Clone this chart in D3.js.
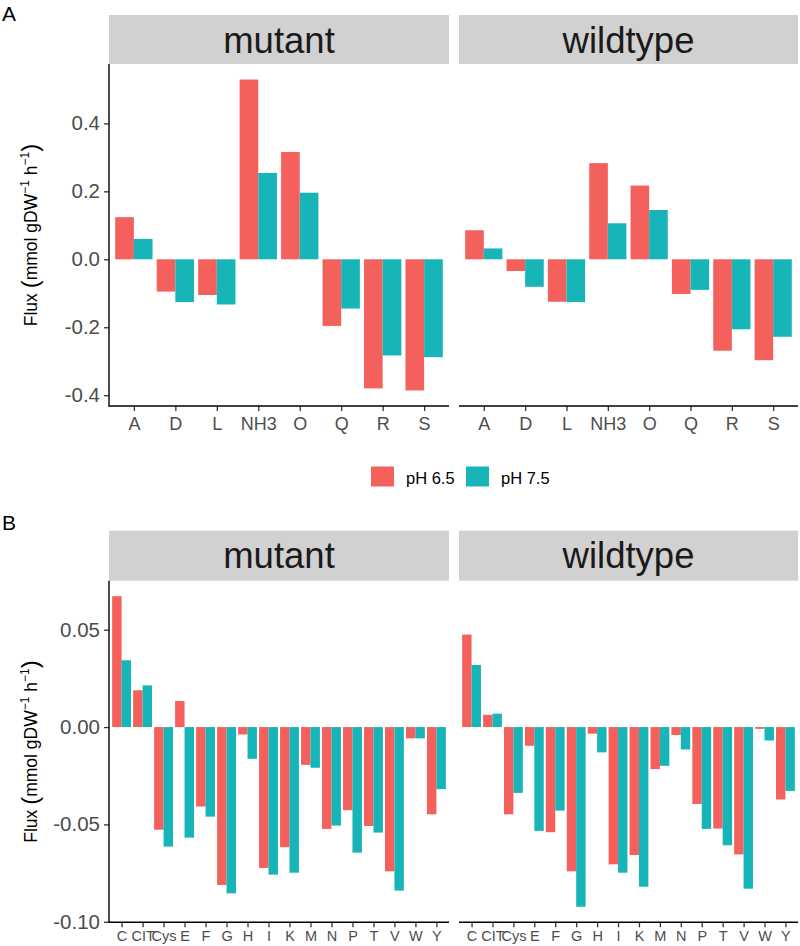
<!DOCTYPE html>
<html>
<head>
<meta charset="utf-8">
<script src="https://cdn.jsdelivr.net/npm/d3@7"></script>
<style>
  html, body { margin: 0; padding: 0; background: #fff; }
  svg { display: block; font-family: "Liberation Sans", Arial, Helvetica, sans-serif; }
  svg text { font-family: "Liberation Sans", Arial, Helvetica, sans-serif; }
</style>
</head>
<body>
<svg id="chart" width="800" height="946"></svg>
<script>
// ---------- DATA ----------
const facets = ["mutant", "wildtype"];
const seriesNames = ["pH 6.5", "pH 7.5"];
const seriesColors = ["#F4605C", "#17B4B8"];

const catsA = ["A", "D", "L", "NH3", "O", "Q", "R", "S"];
const mutantA_ph65 = [0.124, -0.095, -0.105, 0.529, 0.316, -0.196, -0.380, -0.386];
const mutantA_ph75 = [0.060, -0.126, -0.133, 0.254, 0.196, -0.145, -0.283, -0.288];
const wildA_ph65   = [0.0855, -0.0345, -0.125, 0.283, 0.217, -0.102, -0.269, -0.297];
const wildA_ph75   = [0.032, -0.081, -0.126, 0.106, 0.145, -0.090, -0.206, -0.228];
const ticksA = [-0.4, -0.2, 0.0, 0.2, 0.4];

const catsB = ["C", "CIT", "Cys", "E", "F", "G", "H", "I", "K", "M", "N", "P", "T", "V", "W", "Y"];
const mutantB_ph65 = [0.0672, 0.0189, -0.0527, 0.0134, -0.0408, -0.0811, -0.0038, -0.0724, -0.0617, -0.0194, -0.0523, -0.0427, -0.0508, -0.0741, -0.0058, -0.0448];
const mutantB_ph75 = [0.0343, 0.0214, -0.0614, -0.0568, -0.0460, -0.0854, -0.0163, -0.0758, -0.0748, -0.0209, -0.0506, -0.0645, -0.0542, -0.0840, -0.0058, -0.0319];
const wildB_ph65   = [0.0475, 0.0063, -0.0448, -0.0096, -0.0540, -0.0741, -0.0034, -0.0705, -0.0657, -0.0216, -0.0041, -0.0395, -0.0521, -0.0654, -0.0009, -0.0372];
const wildB_ph75   = [0.0319, 0.0069, -0.0338, -0.0533, -0.0429, -0.0923, -0.0130, -0.0748, -0.0820, -0.0199, -0.0115, -0.0523, -0.0607, -0.0830, -0.0069, -0.0328];
const ticksB = [-0.10, -0.05, 0.00, 0.05];

// ---------- LAYOUT ----------
const FONT = '"Liberation Sans", Arial, Helvetica, sans-serif';
const svg = d3.select("#chart");
const panelX = [[109, 449], [459, 798]];
const fontTick = "#4D4D4D";

function drawRow(cfg) {
  const { label, labelY, stripTop, stripBottom, plotBottom, cats, data, ticks, fmt, xFont, xBaseline } = cfg;
  const g = svg.append("g");

  // y scale with ggplot-like 5% expansion
  const all = data.flat(2);
  const lo = d3.min(all), hi = d3.max(all);
  const pad = (hi - lo) * 0.05;
  const y = d3.scaleLinear().domain([lo - pad, hi + pad]).range([plotBottom, stripBottom]);

  // row label
  g.append("text").attr("x", 2).attr("y", labelY)
    .style("font-size", "21px").attr("fill", "#000").text(label);

  facets.forEach((f, fi) => {
    const [x0, x1] = panelX[fi];
    // strip
    g.append("rect").attr("x", x0).attr("y", stripTop)
      .attr("width", x1 - x0).attr("height", stripBottom - stripTop)
      .attr("fill", "#D1D1D1");
    g.append("text").attr("x", (x0 + x1) / 2).attr("y", stripTop + 37.7)
      .attr("text-anchor", "middle").style("font-size", "36.5px").attr("fill", "#1A1A1A")
      .text(f);

    const x = d3.scalePoint().domain(cats).range([x0, x1]).padding(0.6);
    const step = x.step();
    const barW = step * 0.45;

    const pg = g.append("g");
    data[fi].forEach((vals, si) => {
      pg.selectAll(null).data(cats.map((c, i) => ({ c, v: vals[i] })))
        .enter().append("rect")
        .attr("x", d => x(d.c) - barW + si * barW)
        .attr("y", d => Math.min(y(d.v), y(0)))
        .attr("width", barW)
        .attr("height", d => Math.abs(y(d.v) - y(0)))
        .attr("fill", seriesColors[si]);
    });

    // x axis
    const xa = g.append("g").attr("transform", `translate(0,${plotBottom})`)
      .call(d3.axisBottom(x).tickSize(5).tickSizeOuter(0).tickPadding(3));
    xa.attr("font-family", null).attr("font-size", null);
    xa.select(".domain").remove();
    xa.selectAll(".tick line").attr("stroke", "#333").attr("stroke-width", 1.3);
    xa.selectAll(".tick text")
      .style("font-size", xFont + "px").style("font-family", FONT).attr("fill", fontTick)
      .attr("dy", null).attr("y", xBaseline - plotBottom);
    g.append("line").attr("x1", x0).attr("x2", x1)
      .attr("y1", plotBottom).attr("y2", plotBottom)
      .attr("stroke", "#000").attr("stroke-width", 1.4);

    if (fi === 0) {
      const ya = g.append("g").attr("transform", `translate(${x0},0)`)
        .call(d3.axisLeft(y).tickValues(ticks).tickFormat(fmt).tickSize(5).tickPadding(4));
      ya.attr("font-family", null).attr("font-size", null);
      ya.select(".domain").remove();
      ya.selectAll(".tick line").attr("stroke", "#333").attr("stroke-width", 1.3);
      ya.selectAll(".tick text")
        .style("font-size", "20.5px").style("font-family", FONT).attr("fill", fontTick);
      g.append("line").attr("x1", x0).attr("x2", x0)
        .attr("y1", stripBottom).attr("y2", plotBottom + 0.7)
        .attr("stroke", "#000").attr("stroke-width", 1.4);

      // y axis title
      const cy = (stripBottom + plotBottom) / 2;
      const t = g.append("text")
        .attr("transform", `translate(36.5,${cy}) rotate(-90)`)
        .attr("text-anchor", "middle").style("font-size", "17.5px").attr("fill", "#000");
      t.append("tspan").text("Flux ");
      t.append("tspan").style("font-size", "24px").attr("dy", 1.5).text("(");
      t.append("tspan").attr("dy", -1.5).text("mmol gDW");
      t.append("tspan").style("font-size", "12px").attr("dy", -7.5).text("\u22121");
      t.append("tspan").attr("dy", 7.5).text(" h");
      t.append("tspan").style("font-size", "12px").attr("dy", -7.5).text("\u22121");
      t.append("tspan").style("font-size", "24px").attr("dy", 9).text(")");
    }
  });
}

const hy = s => s.replace("\u2212", "-");

drawRow({
  label: "A", labelY: 21, stripTop: 15, stripBottom: 64, plotBottom: 406,
  cats: catsA,
  data: [[mutantA_ph65, mutantA_ph75], [wildA_ph65, wildA_ph75]],
  ticks: ticksA, fmt: v => hy(d3.format(".1f")(v)),
  xFont: 18, xBaseline: 430
});

drawRow({
  label: "B", labelY: 530, stripTop: 530.7, stripBottom: 580.7, plotBottom: 922.3,
  cats: catsB,
  data: [[mutantB_ph65, mutantB_ph75], [wildB_ph65, wildB_ph75]],
  ticks: ticksB, fmt: v => hy(d3.format(".2f")(v)),
  xFont: 14.5, xBaseline: 941.5
});

// ---------- LEGEND ----------
const legX = [371, 466];
const leg = svg.append("g");
seriesNames.forEach((s, i) => {
  leg.append("rect").attr("x", legX[i]).attr("y", 466.5).attr("width", 23).attr("height", 20)
    .attr("fill", seriesColors[i]);
  leg.append("text").attr("x", legX[i] + 35).attr("y", 484)
    .style("font-size", "16.5px").attr("fill", "#000").text(s);
});
</script>
</body>
</html>
